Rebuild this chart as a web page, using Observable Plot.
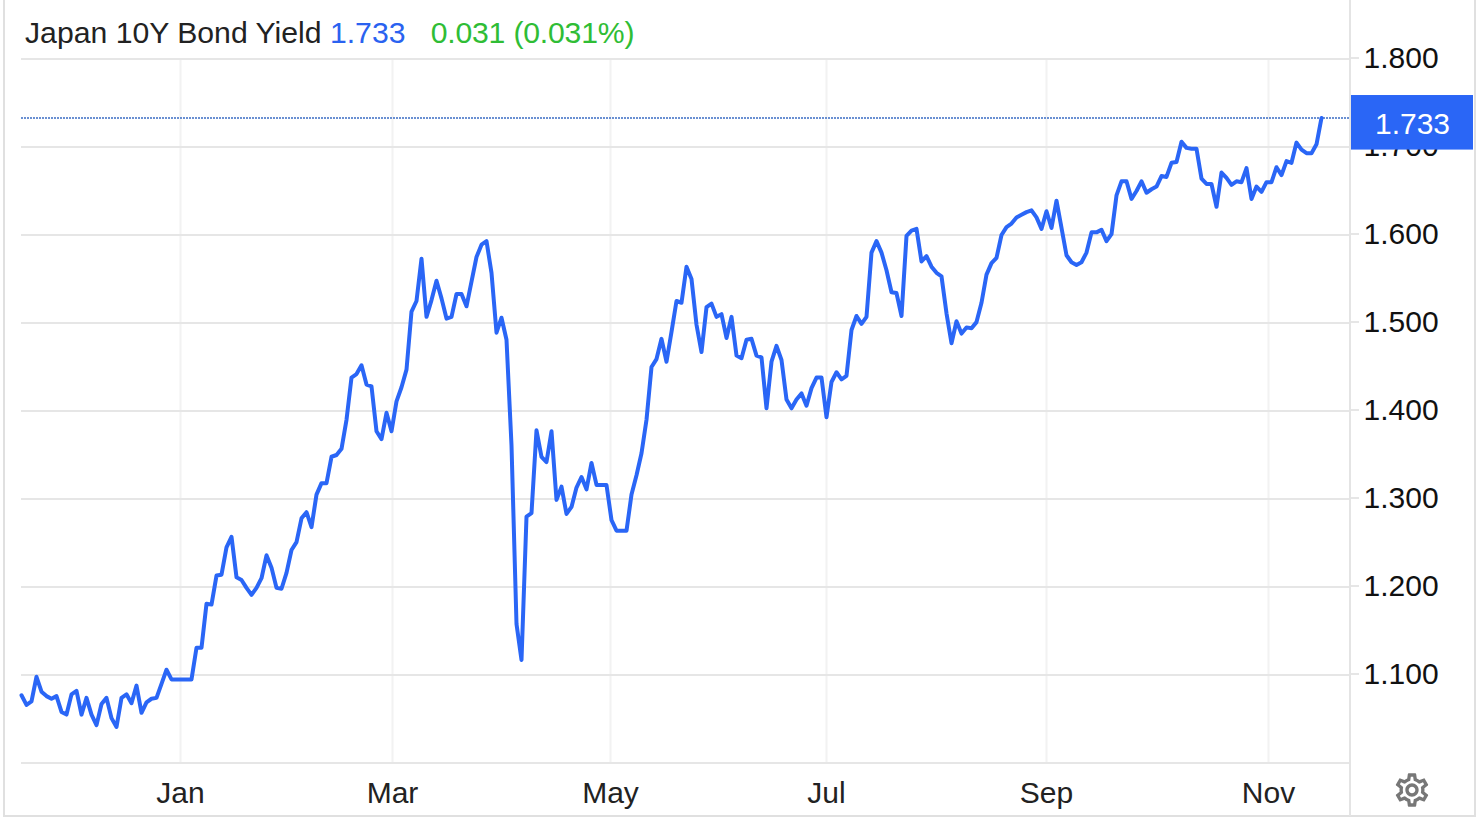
<!DOCTYPE html>
<html>
<head>
<meta charset="utf-8">
<script src="https://cdn.jsdelivr.net/npm/d3@7"></script>
<script src="https://cdn.jsdelivr.net/npm/@observablehq/plot@0.6"></script>
<style>
html,body{margin:0;padding:0;background:#fff;width:1476px;height:818px;overflow:hidden;}
body{position:relative;font-family:"Liberation Sans",Helvetica,Arial,sans-serif;}
#frame{position:absolute;left:3px;top:0;width:1469px;height:815px;border-left:2px solid #e0e0e0;border-right:2px solid #e0e0e0;border-bottom:2px solid #e0e0e0;pointer-events:none;}
#divider{position:absolute;left:1349px;top:0;width:2px;height:816px;background:#e4e4e4;}
#header{position:relative;height:40px;padding-left:25px;box-sizing:border-box;font-size:30.2px;line-height:33px;padding-top:16px;white-space:pre;color:#222;}
#header .v{color:#2a62f0;}
#header .c{color:#2fbd35;letter-spacing:-0.2px;}
#gear{position:absolute;left:1392px;top:770px;}
svg.plot{display:block;position:relative;}
</style>
</head>
<body>
<div id="frame"></div>
<div id="divider"></div>
<div id="header">Japan 10Y Bond Yield <span class="v">1.733</span>   <span class="c">0.031 (0.031%)</span></div>
<div id="chart"></div>
<svg id="gear" width="40" height="40" viewBox="0 0 24 24"><path fill="#777" d="M19.43 12.98c.04-.32.07-.64.07-.98 0-.34-.03-.66-.07-.98l2.11-1.65c.19-.15.24-.42.12-.64l-2-3.46c-.12-.22-.39-.3-.61-.22l-2.49 1c-.52-.4-1.08-.73-1.69-.98l-.38-2.65C14.46 2.18 14.25 2 14 2h-4c-.25 0-.46.18-.49.42l-.38 2.65c-.61.25-1.17.59-1.69.98l-2.49-1c-.23-.09-.49 0-.61.22l-2 3.46c-.13.22-.07.49.12.64l2.11 1.65c-.04.32-.07.65-.07.98 0 .33.03.66.07.98l-2.11 1.65c-.19.15-.24.42-.12.64l2 3.46c.12.22.39.3.61.22l2.49-1c.52.4 1.08.73 1.69.98l.38 2.65c.03.24.24.42.49.42h4c.25 0 .46-.18.49-.42l.38-2.65c.61-.25 1.17-.59 1.69-.98l2.49 1c.23.09.49 0 .61-.22l2-3.46c.12-.22.07-.49-.12-.64l-2.11-1.65zm-1.98-1.71c.04.31.05.52.05.73 0 .21-.02.43-.05.73l-.14 1.13.89.7 1.08.84-.7 1.21-1.27-.51-1.04-.42-.9.68c-.43.32-.84.56-1.25.73l-1.06.43-.16 1.13-.2 1.35h-1.4l-.19-1.35-.16-1.13-1.06-.43c-.43-.18-.83-.41-1.23-.71l-.91-.7-1.06.43-1.27.51-.7-1.21 1.08-.84.89-.7-.14-1.13c-.03-.31-.05-.54-.05-.74s.02-.43.05-.73l.14-1.13-.89-.7-1.08-.84.7-1.21 1.27.51 1.04.42.9-.68c.43-.32.84-.56 1.25-.73l1.06-.43.16-1.13.2-1.35h1.39l.19 1.35.16 1.13 1.06.43c.43.18.83.41 1.23.71l.91.7 1.06-.43 1.27-.51.7 1.21-1.07.85-.89.7.14 1.13zM12 8c-2.21 0-4 1.79-4 4s1.79 4 4 4 4-1.79 4-4-1.79-4-4-4zm0 6c-1.1 0-2-.9-2-2s.9-2 2-2 2 .9 2 2-.9 2-2 2z"/></svg>
<script>
// Yield on each trading day (weekdays), from 18 Nov 2024 to 17 Nov 2025
const yields = [
1.077,1.066,1.070,1.098,1.081,1.076,1.073,1.076,1.058,1.055,
1.078,1.082,1.055,1.074,1.055,1.043,1.067,1.074,1.051,1.041,
1.074,1.078,1.068,1.088,1.057,1.069,1.073,1.074,1.090,1.106,
1.095,1.095,1.095,1.095,1.095,1.131,1.131,1.181,1.180,1.213,
1.214,1.245,1.257,1.211,1.208,1.199,1.191,1.199,1.210,1.236,
1.222,1.199,1.198,1.216,1.242,1.251,1.278,1.285,1.268,1.305,
1.318,1.318,1.348,1.350,1.357,1.390,1.438,1.442,1.452,1.430,
1.428,1.377,1.368,1.398,1.377,1.411,1.427,1.447,1.513,1.525,
1.573,1.507,1.526,1.548,1.528,1.505,1.507,1.533,1.533,1.519,
1.547,1.575,1.589,1.593,1.557,1.489,1.506,1.481,1.361,1.158,
1.117,1.280,1.284,1.378,1.348,1.342,1.377,1.299,1.314,1.283,
1.291,1.313,1.325,1.311,1.341,1.316,1.316,1.316,1.276,1.264,
1.264,1.264,1.305,1.327,1.352,1.390,1.450,1.459,1.482,1.456,
1.490,1.525,1.523,1.564,1.550,1.498,1.467,1.518,1.522,1.507,
1.510,1.483,1.507,1.463,1.460,1.481,1.482,1.463,1.461,1.403,
1.456,1.474,1.458,1.413,1.403,1.413,1.420,1.406,1.426,1.438,
1.438,1.393,1.433,1.444,1.436,1.440,1.492,1.508,1.499,1.507,
1.580,1.593,1.580,1.560,1.535,1.534,1.508,1.599,1.605,1.607,
1.570,1.576,1.564,1.557,1.553,1.511,1.477,1.502,1.488,1.495,
1.494,1.501,1.523,1.555,1.568,1.574,1.600,1.609,1.613,1.620,
1.623,1.626,1.628,1.620,1.607,1.627,1.608,1.639,1.608,1.577,
1.569,1.566,1.569,1.580,1.603,1.603,1.606,1.593,1.601,1.645,
1.661,1.661,1.641,1.650,1.661,1.648,1.652,1.655,1.667,1.666,
1.682,1.683,1.706,1.699,1.698,1.698,1.664,1.658,1.658,1.632,
1.671,1.665,1.657,1.661,1.660,1.676,1.641,1.655,1.649,1.660,
1.660,1.677,1.668,1.684,1.682,1.705,1.697,1.693,1.693,1.703,
1.733
];
const monthLabels = ["Jan","Mar","May","Jul","Sep","Nov"];
const monthIndex = [31.8,74.2,117.8,161,205,249.4];
const yTicks = [1.1,1.2,1.3,1.4,1.5,1.6,1.7,1.8];
const baseline = 1.0;
const last = yields[yields.length-1];

const BLUE = "#2a66f6";
const GRID = "#e6e6e6";
const VGRID = "#f2f2f2";

const chart = Plot.plot({
  width: 1476,
  height: 778,
  marginTop: 18.5,
  marginBottom: 55.5,
  marginLeft: 21,
  marginRight: 126,
  style: {background:"transparent", fontFamily:'"Liberation Sans",Helvetica,Arial,sans-serif', overflow:"visible"},
  x: {domain:[0,265.8], axis:null},
  y: {domain:[baseline,1.8], axis:null},
  marks: [
    Plot.ruleX(monthIndex, {stroke:VGRID, strokeWidth:2}),
    Plot.ruleY([baseline, ...yTicks], {stroke:GRID, strokeWidth:2}),
    Plot.axisY({anchor:"right", ticks:yTicks, tickFormat:d3.format(".3f"), tickSize:8, tickPadding:5, stroke:GRID, strokeWidth:2, fill:"#111", fontSize:30, dy:-1, label:null}),
    Plot.axisX({anchor:"bottom", ticks:monthIndex, tickFormat:d => monthLabels[monthIndex.indexOf(d)], tickSize:0, tickPadding:18.5, fill:"#222", fontSize:30, label:null}),
    Plot.ruleY([last], {stroke:"#3a6cc4", strokeWidth:1.5, strokeDasharray:"2 1"}),
    Plot.line(yields, {x:(d,i)=>i, y:d=>d, stroke:BLUE, strokeWidth:4, strokeLinejoin:"round", curve:"linear"}),
    Plot.rect([last], {x1:266, x2:290.4, y1:d=>d-0.0365, y2:d=>d+0.0255, fill:BLUE}),
    Plot.text([last], {x:278.2, y:d=>d, text:d=>d3.format(".3f")(d), fill:"#fff", fontSize:30, dy:6})
  ]
});
document.getElementById("chart").appendChild(chart);
</script>
</body>
</html>
